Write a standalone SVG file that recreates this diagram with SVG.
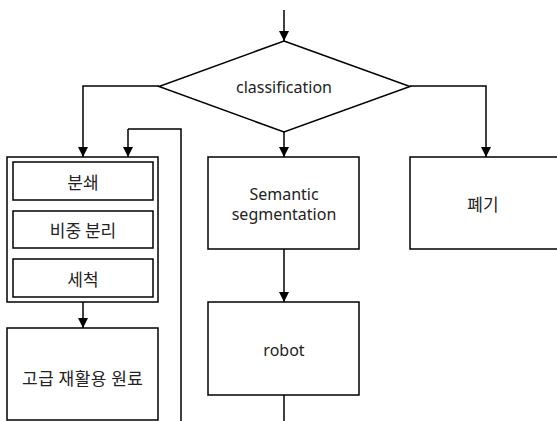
<svg xmlns="http://www.w3.org/2000/svg" width="557" height="421" viewBox="0 0 557 421">
<defs>
<marker id="ah" viewBox="0 0 10 10" refX="10" refY="5" markerWidth="10" markerHeight="10" markerUnits="userSpaceOnUse" orient="auto">
<path d="M0,0 L10,5 L0,10 Z" fill="#000"/>
</marker>
<style>
.box{fill:#fff;stroke:#000;stroke-width:1.5}
.ln{fill:none;stroke:#000;stroke-width:1.5}
.arr{fill:none;stroke:#000;stroke-width:1.5;marker-end:url(#ah)}
.t{font-family:"Noto Sans","Noto Sans CJK KR",sans-serif;font-size:16px;fill:#222;text-anchor:middle;dominant-baseline:central}
.k{font-family:"Noto Sans CJK KR",sans-serif;font-size:17px}
</style>
</defs>
<rect width="557" height="421" fill="#fff"/>
<g id="connectors">
<path class="arr" d="M284,10 L284,41"/>
<path class="arr" d="M159,86 L83,86 L83,157"/>
<path class="arr" d="M410,86 L486,86 L486,157"/>
<path class="arr" d="M284,132 L284,157"/>
<path class="ln" d="M181,421 L181,129 L128,129"/>
<path class="arr" d="M128,129 L128,157"/>
<path class="ln" d="M83,200 L83,211"/>
<path class="ln" d="M83,248 L83,259"/>
<path class="arr" d="M83,302 L83,328"/>
<path class="arr" d="M284,249 L284,302"/>
<path class="ln" d="M284,395 L284,421"/>
</g>
<g id="decision">
<polygon class="box" points="284,41 410,86.5 284,132 159,86.5"/>
<text class="t" x="284" y="87">classification</text>
</g>
<g id="process-group">
<rect class="box" x="7" y="157" width="151" height="145"/>
</g>
<g id="crush">
<rect class="box" x="13" y="162" width="140" height="38"/>
<text class="t k" x="83" y="181">분쇄</text>
</g>
<g id="separation">
<rect class="box" x="13" y="211" width="140" height="37"/>
<text class="t k" x="83" y="229.5">비중 분리</text>
</g>
<g id="wash">
<rect class="box" x="13" y="259" width="140" height="38"/>
<text class="t k" x="83" y="278">세척</text>
</g>
<g id="material">
<rect class="box" x="7" y="328" width="151" height="92"/>
<text class="t k" x="82.5" y="377" textLength="121" lengthAdjust="spacing">고급 재활용 원료</text>
</g>
<g id="segmentation">
<rect class="box" x="208" y="157" width="151" height="92"/>
<text class="t" x="284" y="194">Semantic</text>
<text class="t" x="284" y="214">segmentation</text>
</g>
<g id="robot">
<rect class="box" x="208" y="302" width="151" height="93"/>
<text class="t" x="284" y="350">robot</text>
</g>
<g id="discard">
<rect class="box" x="410" y="157" width="150" height="92"/>
<text class="t k" x="483" y="203">폐기</text>
</g>
</svg>
